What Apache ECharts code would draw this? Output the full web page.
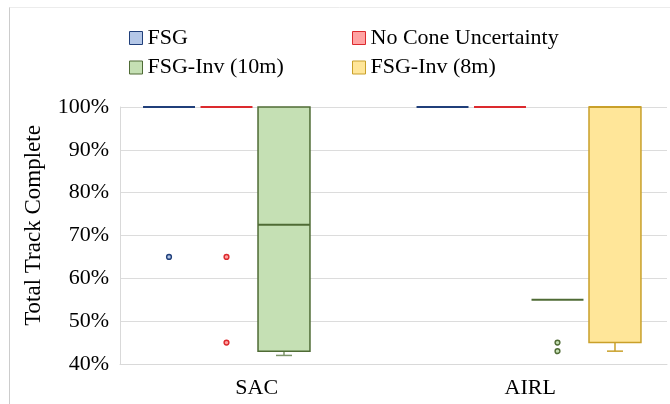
<!DOCTYPE html>
<html>
<head>
<meta charset="utf-8">
<script src="https://cdn.jsdelivr.net/npm/echarts@6/dist/echarts.min.js"></script>
<style>html,body{margin:0;padding:0;background:#fff}#c{width:670px;height:404px}</style>
</head>
<body>
<div id="c"></div>
<script>
// ---- data ----
const categories = ['SAC', 'AIRL'];
const seriesNames = ['FSG', 'No Cone Uncertainty', 'FSG-Inv (10m)', 'FSG-Inv (8m)'];
// [categoryIndex, min, Q1, median, Q3, max]
const fsgBoxes = [[0, 100, 100, 100, 100, 100], [1, 100, 100, 100, 100, 100]];
const noConeBoxes = [[0, 100, 100, 100, 100, 100], [1, 100, 100, 100, 100, 100]];
const inv10Boxes = [[0, 42, 43, 72.5, 100, 100], [1, 55, 55, 55, 55, 55]];
const inv8Boxes = [[1, 43, 45, 100, 100, 100]];
// [categoryIndex, value]
const fsgOutliers = [[0, 65]];
const noConeOutliers = [[0, 65], [0, 45]];
const inv10Outliers = [[1, 45], [1, 43]];
const inv8Outliers = [];
const yTicks = [40, 50, 60, 70, 80, 90, 100];

// ---- styles ----
const fills = ['#b4c7e7', '#ffa3a3', '#c5e0b4', '#ffe699'];
const strokes = ['#203f7a', '#dc2a2e', '#4f6b35', '#c9a02a'];
const whiskerColors = ['#203f7a', '#dc2a2e', '#7d946a', '#c9a02a'];
const SPACING = 0.2102, BOXW = 0.19, SHIFT = -1.5;
const FONT = '"Liberation Serif", "Times New Roman", serif';

function centerX(api, cat, si) {
  const band = api.size([1, 0])[0];
  return api.coord([cat, 100])[0] + (si - 1.5) * band * SPACING + SHIFT;
}

function boxRenderer(si) {
  return function (params, api) {
    const cat = api.value(0);
    const band = api.size([1, 0])[0];
    const w = band * BOXW;
    const cx = centerX(api, cat, si);
    const y = v => api.coord([cat, v])[1];
    const yMin = y(api.value(1)), yQ1 = y(api.value(2)), yMed = y(api.value(3)),
          yQ3 = y(api.value(4)), yMax = y(api.value(5));
    const children = [];
    if (yMin > yQ1 + 0.5) {
      children.push({ type: 'line', shape: { x1: cx, y1: yQ1, x2: cx, y2: yMin }, style: { stroke: whiskerColors[si], lineWidth: 1.5 } });
      children.push({ type: 'line', shape: { x1: cx - 8, y1: yMin, x2: cx + 8, y2: yMin }, style: { stroke: whiskerColors[si], lineWidth: 1.5 } });
    }
    if (yMax < yQ3 - 0.5) {
      children.push({ type: 'line', shape: { x1: cx, y1: yQ3, x2: cx, y2: yMax }, style: { stroke: whiskerColors[si], lineWidth: 1.5 } });
      children.push({ type: 'line', shape: { x1: cx - 8, y1: yMax, x2: cx + 8, y2: yMax }, style: { stroke: whiskerColors[si], lineWidth: 1.5 } });
    }
    if (yQ1 - yQ3 > 0.5) {
      children.push({ type: 'rect', shape: { x: cx - w / 2, y: yQ3, width: w, height: yQ1 - yQ3 }, style: { fill: fills[si], stroke: strokes[si], lineWidth: 1.5 } });
    }
    children.push({ type: 'line', shape: { x1: cx - w / 2, y1: yMed, x2: cx + w / 2, y2: yMed }, style: { stroke: strokes[si], lineWidth: 2 } });
    return { type: 'group', children };
  };
}

function outlierRenderer(si) {
  return function (params, api) {
    const cat = api.value(0);
    const cx = centerX(api, cat, si);
    const cy = api.coord([cat, api.value(1)])[1];
    return { type: 'circle', shape: { cx, cy, r: 2.4 }, style: { fill: fills[si], stroke: strokes[si], lineWidth: 1.4 } };
  };
}

const boxData = [fsgBoxes, noConeBoxes, inv10Boxes, inv8Boxes];
const outData = [fsgOutliers, noConeOutliers, inv10Outliers, inv8Outliers];
const series = [];
seriesNames.forEach((name, si) => {
  series.push({
    type: 'custom', name, data: boxData[si], renderItem: boxRenderer(si),
    itemStyle: { color: fills[si], borderColor: strokes[si] },
    encode: { x: 0, y: [1, 2, 3, 4, 5] }, z: 3
  });
  series.push({
    type: 'custom', name, data: outData[si], renderItem: outlierRenderer(si),
    itemStyle: { color: fills[si], borderColor: strokes[si] },
    encode: { x: 0, y: 1 }, z: 4
  });
});

function legendItem(i) {
  return { name: seriesNames[i], itemStyle: { color: fills[i], borderColor: strokes[i], borderWidth: 1 } };
}
const legendCommon = {
  orient: 'vertical', top: 27, itemWidth: 13, itemHeight: 13, itemGap: 7.5, icon: 'rect',
  textStyle: { fontFamily: FONT, fontSize: 22, color: '#000', lineHeight: 22 }, padding: 0
};

const chart = echarts.init(document.getElementById('c'), null, { renderer: 'canvas' });
chart.setOption({
  animation: false,
  backgroundColor: '#fff',
  legend: [
    Object.assign({}, legendCommon, { left: 129, data: [legendItem(0), legendItem(2)] }),
    Object.assign({}, legendCommon, { left: 352, data: [legendItem(1), legendItem(3)] })
  ],
  grid: { left: 120, right: 3, top: 107, bottom: 40 },
  xAxis: {
    type: 'category', data: categories,
    axisLine: { show: true, lineStyle: { color: '#d9d9d9', width: 1 } },
    axisTick: { show: false },
    axisLabel: { fontFamily: FONT, fontSize: 22, color: '#000', margin: 13 }
  },
  yAxis: {
    type: 'value', min: yTicks[0], max: yTicks[yTicks.length - 1], interval: 10,
    name: 'Total Track Complete', nameLocation: 'middle', nameGap: 75,
    nameTextStyle: { fontFamily: FONT, fontSize: 23, color: '#000', padding: [0, 0, 0, 20] },
    axisLine: { show: true, lineStyle: { color: '#d9d9d9', width: 1 } },
    axisTick: { show: false },
    splitLine: { lineStyle: { color: '#dcdcdc', width: 1.2 } },
    axisLabel: { fontFamily: FONT, fontSize: 22, color: '#000', margin: 11, formatter: '{value}%' }
  },
  graphic: [
    { type: 'line', shape: { x1: 9.5, y1: 7, x2: 9.5, y2: 404 }, style: { stroke: '#cccccc', lineWidth: 1 }, silent: true },
    { type: 'line', shape: { x1: 9.5, y1: 7.5, x2: 670, y2: 7.5 }, style: { stroke: '#ececec', lineWidth: 1 }, silent: true }
  ],
  series
});
</script>
</body>
</html>
